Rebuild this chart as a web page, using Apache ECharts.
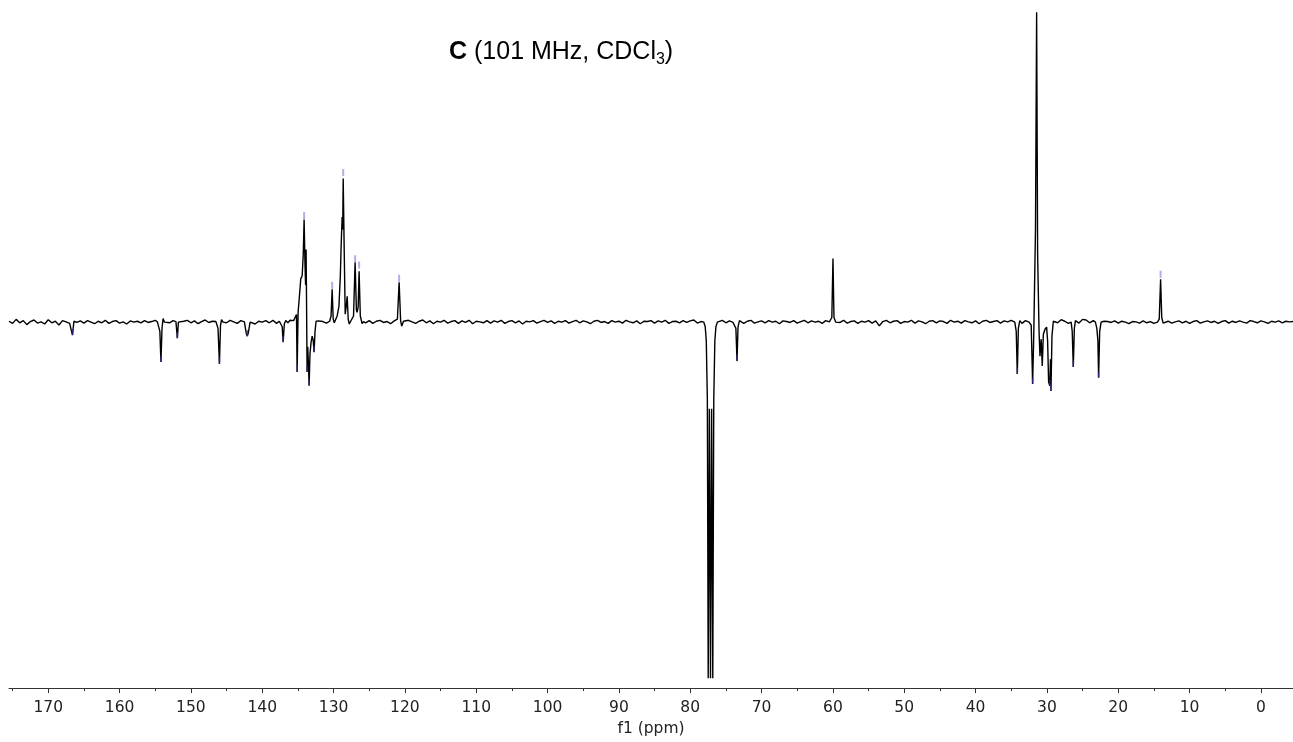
<!DOCTYPE html>
<html>
<head>
<meta charset="utf-8">
<script src="https://cdn.jsdelivr.net/npm/echarts@6/dist/echarts.min.js"></script>
<style>
html,body{margin:0;padding:0;background:#fff;}
#chart{width:1293px;height:742px;}
</style>
</head>
<body>
<div id="chart"></div>
<script>
// ---- data ----
const titleText = ['C', ' (101 MHz, CDCl', '3', ')'];
const axisName = 'f1 (ppm)';
const majorTicks = [170,160,150,140,130,120,110,100,90,80,70,60,50,40,30,20,10,0];
const minorTicks = [175,165,155,145,135,125,115,105,95,85,75,65,55,45,35,25,15,5];
const ppmMin = -4.5;
const ppmMax = 175.5;
const intensityMin = -118.4;
const intensityMax = 101;

// baseline noise sampled every 0.5 ppm from 175.5 down to -4.5
const noiseStart = 175.5;
const noiseStep = 0.5;
const noise = [
 0.3,-0.4,0.9,-0.2,0.5,-0.8,0.2,0.7,-0.3,0.1,-0.6,0.8,-0.2,0.3,-0.9,0.5,0.1,-0.4,0.7,-0.1,
 0.4,-0.3,0.5,0.0,-0.5,0.3,-0.2,0.6,-0.4,0.2,0.5,-0.3,0.1,-0.6,0.4,0.0,0.3,-0.2,0.5,-0.1,
 0.2,0.6,0.1,-0.3,0.4,-0.2,0.5,0.0,-0.4,0.3,0.6,-0.2,0.4,-0.5,0.2,0.7,-0.1,0.3,0.5,-0.3,
 0.4,-0.2,0.6,0.1,-0.4,0.5,-0.3,0.2,0.4,-0.6,0.3,0.0,0.5,-0.2,0.6,-0.4,0.2,0.7,-0.5,0.3,
 0.1,0.5,-0.4,0.6,-0.1,0.3,-0.5,0.4,0.2,-0.3,0.6,0.1,-0.4,0.5,-0.2,0.3,0.0,-0.3,0.4,0.2,
 -0.2,0.5,-0.4,0.3,0.6,-0.1,0.2,-0.5,0.4,0.0,0.5,-0.3,0.6,0.1,-0.4,0.3,0.7,-0.2,0.4,-0.5,
 0.3,0.0,0.6,-0.3,0.2,0.5,-0.4,0.4,-0.1,0.6,-0.5,0.3,0.1,-0.2,0.5,-0.3,0.4,0.0,0.6,-0.4,
 0.2,0.5,-0.2,0.4,-0.6,0.3,0.1,0.5,-0.3,0.2,0.6,-0.1,0.4,-0.4,0.3,0.0,0.5,-0.3,0.2,0.6,
 -0.2,0.4,0.1,-0.5,0.3,0.6,-0.1,0.2,-0.4,0.5,0.0,0.3,-0.3,0.6,0.1,-0.2,0.4,-0.5,0.3,0.2,
 0.5,-0.3,0.4,0.0,0.6,-0.4,0.2,0.3,-0.2,0.5,-0.1,0.4,0.7,-0.3,0.2,0.5,0.0,-0.2,0.4,0.3,
 0.6,-0.2,0.4,-0.1,0.5,0.2,-0.4,0.3,0.6,-0.3,0.1,0.4,-0.2,0.5,0.0,0.3,-0.5,0.4,0.2,-0.1,
 0.5,-0.3,0.2,0.6,-0.2,0.4,0.0,0.3,-0.4,0.5,0.1,-0.2,0.4,-0.1,0.6,-0.3,0.2,0.4,-0.4,0.3,
 0.0,0.5,-0.3,0.4,-1.2,0.2,0.6,-0.2,0.3,0.5,-0.4,0.2,0.0,0.6,-0.3,0.4,0.1,-0.5,0.3,0.5,
 -0.2,0.4,0.2,-0.4,0.6,0.0,0.3,-0.3,0.5,0.1,-0.2,0.4,-0.5,0.3,0.6,-0.1,0.2,0.5,-0.3,0.4,
 0.1,0.6,-0.2,0.3,-0.4,0.5,0.2,0.0,-0.3,0.4,0.6,0.2,0.9,0.5,-0.2,0.8,0.3,-0.4,0.2,0.5,
 -0.3,0.9,0.7,-0.2,0.5,0.0,-0.4,0.3,0.2,-0.1,0.4,-0.3,0.3,0.0,-0.5,0.2,0.1,-0.3,0.4,-0.2,
 0.2,-0.4,0.0,-0.6,-0.2,0.3,-0.3,0.1,0.4,-0.2,0.3,-0.4,0.2,0.5,-0.3,0.1,0.4,-0.1,0.3,-0.4,
 0.2,0.5,-0.3,0.3,-0.1,0.4,0.0,-0.3,0.5,0.2,-0.2,0.4,0.1,-0.4,0.3,0.0,0.4,-0.2,0.3,0.1,
 0.2
];

// signal shapes: [ppm, intensity] vertices
const peakGroups = [
 [[166.9,0.2],[166.6,-4.2],[166.4,0.3]],
 [[154.7,0.1],[154.35,-3],[154.2,-12.9],[154.05,-2],[153.9,1.2],[153.7,0]],
 [[152.1,0.2],[151.9,-5.2],[151.75,0]],
 [[146.5,0.2],[146.2,-2],[146.0,-13.5],[145.85,-1],[145.7,0.8],[145.5,0]],
 [[142.5,0.1],[142.25,-3.5],[142.1,-4.5],[141.95,-3.5],[141.7,0]],
 [[137.6,0.3],[137.35,-0.3],[137.2,-1.5],[137.07,-6.5],[136.9,-0.5],[136.7,0.5],[136.4,-0.2],[136.1,0.6],
  [135.85,0.2],[135.6,0.5],[135.4,1.5],[135.2,2.5],[135.11,-16.1],[134.97,3.2],[134.8,8],[134.6,14],[134.4,15],
  [134.25,22],[134.13,33.2],[134.0,18],[133.92,12],[133.85,23.5],[133.78,4],[133.71,-16.1],[133.62,-8],
  [133.5,-15],[133.43,-20.6],[133.3,-10],[133.15,-6.5],[133.0,-4.5],[132.85,-6],[132.73,-9.7],[132.6,-3],
  [132.45,0.3],[132.3,-0.2],[132.1,0.4]],
 [[130.55,0.3],[130.35,2],[130.2,10.6],[130.05,1],[129.9,-0.2]],
 [[129.7,0.4],[129.5,2.0],[129.25,5],[129.05,15],[128.94,24.5],[128.8,34],[128.72,30],[128.65,46.5],
  [128.51,23.5],[128.37,2.6],[128.23,5],[128.09,8.4],[127.95,1],[127.8,-0.6],[127.6,0.3]],
 [[127.4,0.2],[127.2,2],[126.98,19.4],[126.8,4],[126.7,3.2],[126.55,5],[126.42,16.5],[126.25,2],[126.0,-0.5],[125.8,0.2]],
 [[121.3,0.2],[121.05,1],[120.81,12.9],[120.6,0.5],[120.45,-1.3],[120.2,0.3]],
 [[78.1,0],[77.9,-1.5],[77.75,-6],[77.6,-25],[77.48,-115.2],[77.32,-28],[77.16,-115.2],[77.0,-28],
  [76.84,-115.2],[76.7,-25],[76.55,-6],[76.4,-1.5],[76.2,0]],
 [[73.8,0],[73.6,-2],[73.44,-12.6],[73.3,-1.5],[73.1,0.5]],
 [[60.4,0.2],[60.15,1.5],[59.99,20.6],[59.85,1.5],[59.6,0]],
 [[34.5,0],[34.3,-3],[34.15,-16.8],[34.0,-2],[33.8,0.5]],
 [[32.5,0],[32.2,-1],[32.0,-20],[31.85,-5],[31.6,30],[31.44,100.3],[31.3,22],[31.1,-3],[30.97,-11],
  [30.8,-5.5],[30.65,-14.2],[30.5,-4],[30.27,-2.3],[30.04,-1.6],[29.9,-6],[29.76,-19.4],[29.6,-20.6],
  [29.5,-12],[29.43,-22.3],[29.29,-4.5],[29.1,0.3],[28.9,0]],
 [[26.6,0],[26.45,-3],[26.3,-14.5],[26.15,-2],[26.0,0.5]],
 [[23.2,0],[23.0,-2],[22.85,-6],[22.75,-18],[22.6,-3],[22.4,0]],
 [[14.5,0],[14.25,1],[14.06,13.9],[13.9,1.5],[13.7,-0.3]]
];

// peak-picking marks above positive signals
const peakMarks = [[134.13,34.5],[130.2,11.9],[128.65,48.4],[126.98,20.5],[126.42,18.5],[120.81,14.2],[14.06,15.5]];
// coloured tips of negative signals
const negMarks = [[166.6,-3.2],[154.2,-11.8],[151.9,-4.2],[146.0,-12.4],[142.1,-3.6],[137.07,-5.4],[135.11,-15],
 [133.71,-15],[133.43,-19.5],[132.73,-8.6],[73.44,-11.5],[34.15,-15.7],[32.0,-18.9],[29.6,-19.5],[29.43,-21.2],[26.3,-13.4],[22.75,-16.9]];

// ---- build spectrum table ----
const ranges = peakGroups.map(g => {
  const xs = g.map(p => p[0]);
  return [Math.min(...xs), Math.max(...xs)];
});
const spectrum = [];
noise.forEach((v, i) => {
  const ppm = +(noiseStart - i * noiseStep).toFixed(2);
  if (!ranges.some(r => ppm >= r[0] - 0.05 && ppm <= r[1] + 0.05)) spectrum.push([ppm, v]);
});
peakGroups.forEach(g => g.forEach(p => spectrum.push(p)));
spectrum.sort((a, b) => b[0] - a[0]);

const chart = echarts.init(document.getElementById('chart'));
const labelFont = 'DejaVu Sans';
chart.setOption({
  animation: false,
  backgroundColor: '#fff',
  title: {
    text: '{b|' + titleText[0] + '}' + titleText[1] + '{sub|' + titleText[2] + '}' + titleText[3],
    left: 444,
    top: 31,
    textStyle: {
      fontFamily: 'Liberation Sans',
      fontSize: 25,
      fontWeight: 'normal',
      color: '#000',
      lineHeight: 32,
      rich: {
        b: {fontFamily: 'Liberation Sans', fontSize: 25, fontWeight: 'bold', color: '#000', lineHeight: 32},
        sub: {fontFamily: 'Liberation Sans', fontSize: 16, color: '#000', lineHeight: 16, verticalAlign: 'bottom'}
      }
    }
  },
  grid: {left: 9, right: 0, top: 10, bottom: 52},
  xAxis: [{
    type: 'value',
    min: ppmMin,
    max: ppmMax,
    inverse: true,
    position: 'bottom',
    name: axisName,
    nameLocation: 'middle',
    nameGap: 25,
    nameTextStyle: {fontFamily: labelFont, fontSize: 15.5, color: '#222'},
    axisLine: {show: true, onZero: false, lineStyle: {color: '#333', width: 1}},
    axisTick: {show: true, length: 5, customValues: majorTicks, lineStyle: {color: '#333'}},
    axisLabel: {show: true, customValues: majorTicks, margin: 12, fontFamily: labelFont, fontSize: 15.5, color: '#222'},
    splitLine: {show: false}
  }, {
    type: 'value',
    min: ppmMin,
    max: ppmMax,
    inverse: true,
    position: 'bottom',
    axisLine: {show: false, onZero: false},
    axisTick: {show: true, length: 3, customValues: minorTicks, lineStyle: {color: '#333'}},
    axisLabel: {show: false},
    splitLine: {show: false}
  }],
  yAxis: {
    type: 'value', min: intensityMin, max: intensityMax, show: false, splitLine: {show: false}
  },
  series: [{
    type: 'line',
    data: spectrum,
    showSymbol: false,
    symbol: 'none',
    lineStyle: {color: '#000', width: 1.4},
    clip: true,
    z: 2
  }, {
    type: 'scatter',
    data: peakMarks,
    symbol: 'rect',
    symbolSize: [2, 7],
    itemStyle: {color: '#9a9ae6'},
    z: 3
  }, {
    type: 'scatter',
    data: negMarks,
    symbol: 'rect',
    symbolSize: [1.5, 6],
    itemStyle: {color: '#2a2a8c'},
    z: 4
  }]
});
</script>
</body>
</html>
